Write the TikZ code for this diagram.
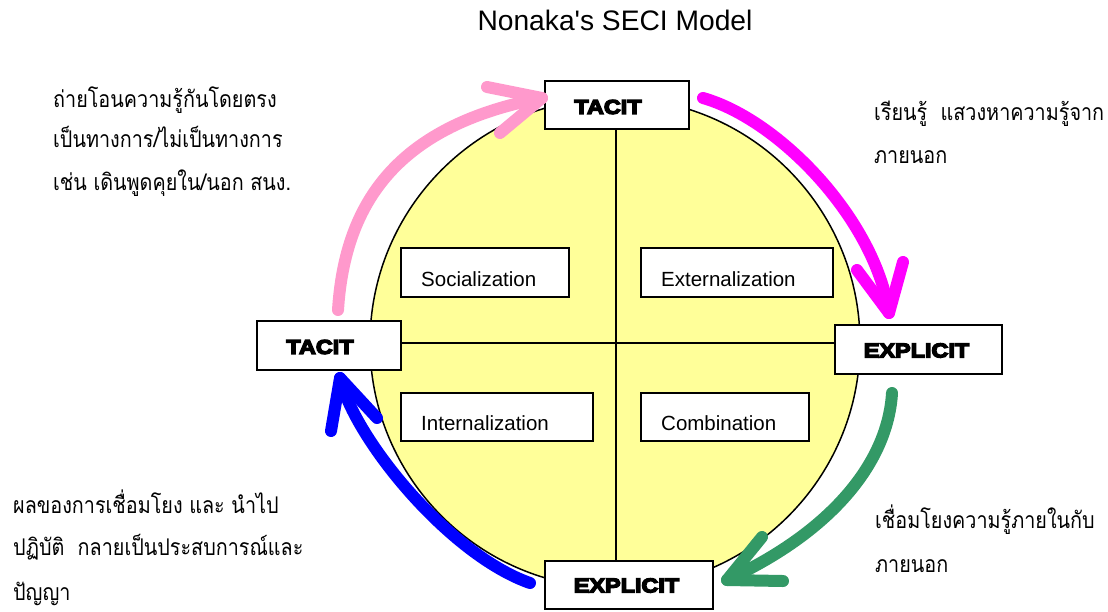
\documentclass[tikz,border=0pt]{standalone}
\usepackage{fontspec}
\setmainfont{Liberation Sans}
\newfontfamily\thaifont[Script=Thai,FakeStretch=0.86]{Loma}
\newfontfamily\blackfont[FakeBold=7,FakeStretch=1.17]{Liberation Sans Bold}
\definecolor{circfill}{HTML}{FFFF99}
\definecolor{apink}{HTML}{FF99CC}
\definecolor{amag}{HTML}{FF00FF}
\definecolor{agreen}{HTML}{339966}
\definecolor{ablue}{HTML}{0000FF}
\newcommand{\straightquote}{\XeTeXglyph\XeTeXglyphindex "quotesingle"\relax}
\begin{document}
\begin{tikzpicture}[x=1pt,y=-1pt,
  bigbox/.style={draw=black, line width=2pt, fill=white, inner sep=0pt, outer sep=0pt},
  bigtext/.style={inner sep=0pt, font=\blackfont\fontsize{20}{22}\selectfont},
  qbox/.style={draw=black, line width=2pt, fill=white, inner sep=0pt, outer sep=0pt,
    anchor=north west},
  qtext/.style={anchor=base west, inner sep=0pt, font=\fontsize{20.5}{24}\selectfont},
  thai/.style={anchor=base west, inner sep=0pt, font=\thaifont\fontsize{23}{26}\selectfont},
  bigarrow/.style={line width=12pt, line cap=round, line join=round}]
\useasboundingbox (0,0) rectangle (1108,611);

% title
\node[font=\fontsize{28.2}{30}\selectfont, inner sep=0pt] (title) at (615,20) {Nonaka\straightquote s SECI Model};

% circle
\node[circle, draw=black, line width=1.5pt, fill=circfill, minimum size=490pt, inner sep=0pt] (circ) at (615,343) {};

% boxes
\node[bigbox, minimum width=144pt, minimum height=48pt] (ttop) at (617,105) {};
\node[bigbox, minimum width=144pt, minimum height=49pt] (tleft) at (329,345.5) {};
\node[bigbox, minimum width=167pt, minimum height=49pt] (eright) at (918.5,349.5) {};
\node[bigbox, minimum width=168pt, minimum height=48pt] (ebot) at (629,585) {};
\node[bigtext] (ttopt) at (608,107) {TACIT};
\node[bigtext] (tleftt) at (320,347) {TACIT};
\node[bigtext] (erightt) at (916.5,350.5) {EXPLICIT};
\node[bigtext] (ebott) at (626.5,585.5) {EXPLICIT};

% axes
\coordinate (vt) at (616,129);
\coordinate (vb) at (616,561);
\coordinate (hl) at (401,343);
\coordinate (hr) at (835,343);
\draw[line width=2pt] (ttop.south -| vt) -- (ebot.north -| vb);
\draw[line width=2pt] (tleft.east |- hl) -- (eright.west |- hr);

% quadrant boxes
\node[qbox, minimum width=168pt, minimum height=49pt] (socb) at (401,248) {};
\node[qbox, minimum width=192pt, minimum height=49pt] (extb) at (641,248) {};
\node[qbox, minimum width=192pt, minimum height=48pt] (intb) at (401,393) {};
\node[qbox, minimum width=168pt, minimum height=48pt] (comb) at (641,393) {};
\node[qtext] (soct) at (421,286) {Socialization};
\node[qtext] (extt) at (661,286) {Externalization};
\node[qtext] (intt) at (421,430) {Internalization};
\node[qtext] (comt) at (661,430) {Combination};

% arrows
\coordinate (p0) at (338,310);
\coordinate (p1) at (542,98);
\draw[bigarrow, apink] (p0) .. controls (345,200) and (400,125) .. (p1);
\coordinate (pa1) at (487,87);
\coordinate (pa2) at (500,133);
\draw[bigarrow, apink] (pa1) -- (p1) -- (pa2);

\coordinate (m0) at (703,98);
\coordinate (m1) at (889,313);
\draw[bigarrow, amag] (m0) .. controls (780,120) and (875,220) .. (m1);
\coordinate (ma1) at (857,270);
\coordinate (ma2) at (903,262);
\draw[bigarrow, amag] (ma1) -- (m1) -- (ma2);

\coordinate (g0) at (892,393);
\coordinate (g1) at (727,580);
\draw[bigarrow, agreen] (g0) .. controls (888,460) and (835,530) .. (g1);
\coordinate (ga1) at (762,537);
\coordinate (ga2) at (783,581);
\draw[bigarrow, agreen] (ga1) -- (g1) -- (ga2);

\coordinate (b0) at (530,583);
\coordinate (b1) at (340,378);
\draw[bigarrow, ablue] (b0) .. controls (450,555) and (355,440) .. (b1);
\coordinate (ba1) at (331,431);
\coordinate (ba2) at (377,418);
\draw[bigarrow, ablue] (ba1) -- (b1) -- (ba2);

% thai texts
\node[thai] (tl1) at (53,107) {ถ่ายโอนความรู้กันโดยตรง};
\node[thai] (tl2) at (53,147) {เป็นทางการ/ไม่เป็นทางการ};
\node[thai] (tl3) at (53,190) {เช่น เดินพูดคุยใน/นอก สนง.};

\node[thai] (tr1) at (874,120) {เรียนรู้\ \ แสวงหาความรู้จาก};
\node[thai] (tr2) at (874,163) {ภายนอก};

\node[thai] (bl1) at (13,513) {ผลของการเชื่อมโยง และ นำไป};
\node[thai] (bl2) at (13,555) {ปฏิบัติ\ \ กลายเป็นประสบการณ์และ};
\node[thai] (bl3) at (13,600) {ปัญญา};

\node[thai] (br1) at (875,528) {เชื่อมโยงความรู้ภายในกับ};
\node[thai] (br2) at (875,572) {ภายนอก};
\end{tikzpicture}
\end{document}
